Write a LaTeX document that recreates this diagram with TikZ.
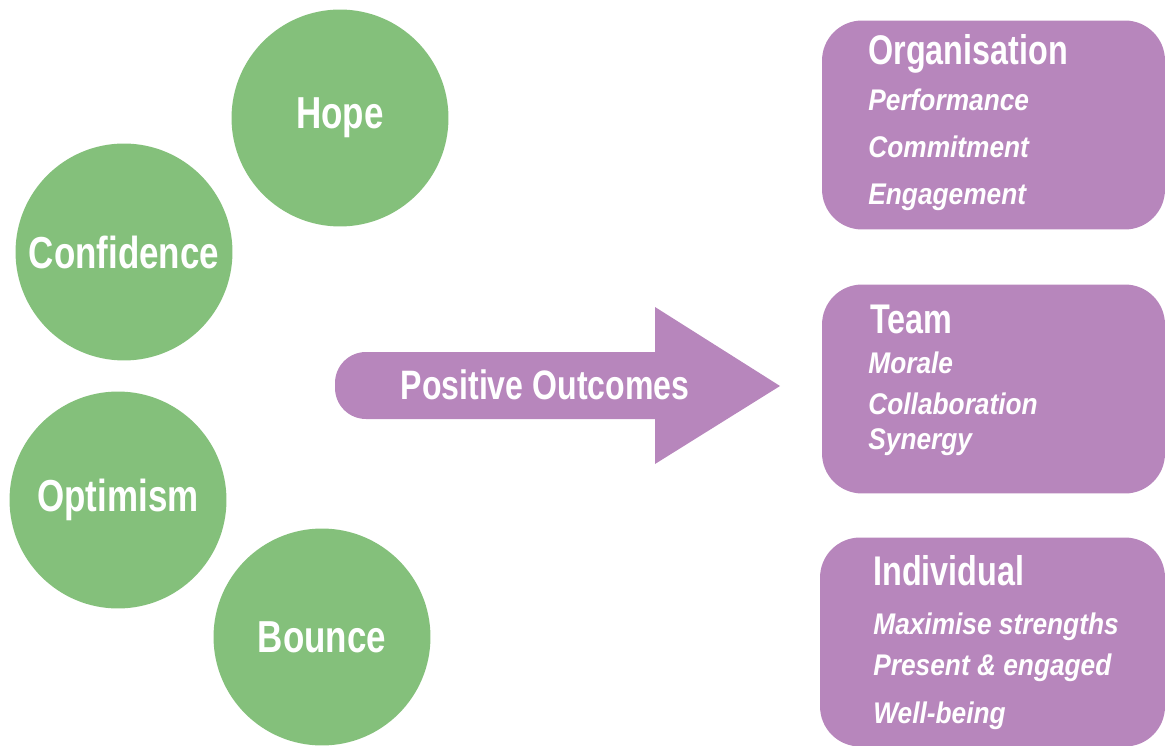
\documentclass[tikz,border=0pt]{standalone}
\usepackage{fontspec}
\newfontfamily\condfont{Liberation Sans}[FakeStretch=0.78]
\newfontfamily\itemfont{Liberation Sans}[FakeStretch=0.88]
\usepackage{tikz}
\usetikzlibrary{positioning}

\definecolor{bubblegreen}{RGB}{132,192,123}
\definecolor{boxpurple}{RGB}{183,134,188}

\begin{document}
\begin{tikzpicture}[
    x=0.02cm, y=-0.02cm,
    bubble/.style={circle, fill=bubblegreen, minimum size=4.34cm, inner sep=0pt, text=white, font=\condfont\bfseries\fontsize{25.5}{30}\selectfont},
    outcomebox/.style={rectangle, rounded corners=0.8cm, fill=boxpurple, minimum width=6.86cm, minimum height=4.18cm},
    heading/.style={anchor=base west, inner sep=0pt, text=white, font=\condfont\bfseries\fontsize{23.6}{28}\selectfont},
    item/.style={anchor=base west, inner sep=0pt, text=white, font=\itemfont\bfseries\itshape\fontsize{17}{20}\selectfont},
    arrowlabel/.style={inner sep=0pt, text=white, font=\condfont\bfseries\fontsize{23.4}{28}\selectfont}
]
\useasboundingbox (0,0) rectangle (1165,746);

% Circles
\node (Hope) [bubble] at (340,118) {Hope};
\node (Confidence) [bubble] at (124,252) {Confidence};
\node (Optimism) [bubble] at (118,500) {Optimism};
\node (Bounce) [bubble] at (322,637) {Bounce};

% Big arrow
\fill[boxpurple] (655,352) -- (655,307) -- (780,386) -- (655,464) -- (655,419)
    [rounded corners=0.62cm] -- (335,419) -- (335,352) [sharp corners] -- cycle;
\node (Outcomes) [arrowlabel] at (545,385) {Positive Outcomes};

% Boxes
\node (OrgBox) [outcomebox] at (993.5,125) {};
\node (TeamBox) [outcomebox] at (993.5,389) {};
\node (IndivBox) [outcomebox, minimum width=6.9cm] at (992.5,642) {};

% Box texts
\node (OrgTitle) [heading] at (868,65) {Organisation};
\node (OrgA) [item] at (868,111) {Performance};
\node (OrgB) [item] at (868,158) {Commitment};
\node (OrgC) [item] at (868,205) {Engagement};

\node (TeamTitle) [heading] at (870,333) {Team};
\node (TeamA) [item] at (868,373) {Morale};
\node (TeamB) [item] at (868,414) {Collaboration};
\node (TeamC) [item] at (868,449) {Synergy};

\node (IndivTitle) [heading] at (873,585) {Individual};
\node (IndivA) [item] at (873,634) {Maximise strengths};
\node (IndivB) [item] at (873,675) {Present \& engaged};
\node (IndivC) [item] at (873,723) {Well-being};

\end{tikzpicture}
\end{document}
